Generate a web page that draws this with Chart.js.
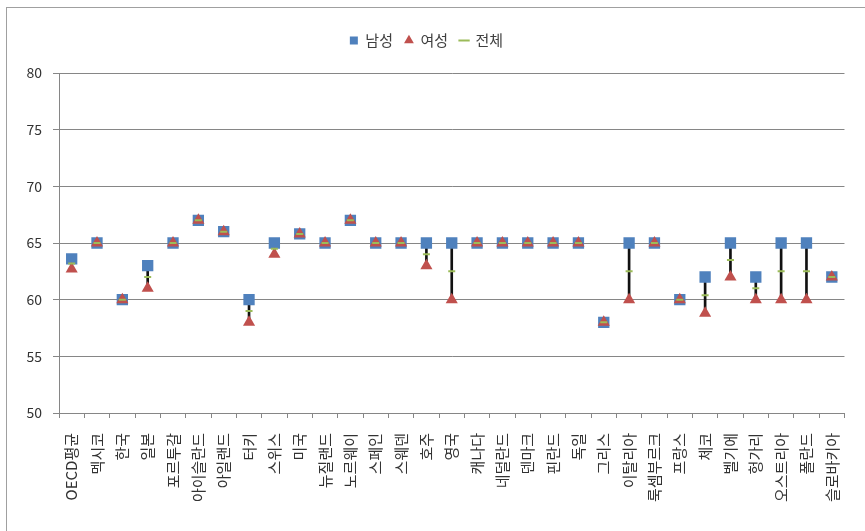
<!DOCTYPE html>
<html><head><meta charset="utf-8">
<script src="https://cdn.jsdelivr.net/npm/chart.js@4/dist/chart.umd.min.js"></script>
<style>
html,body{margin:0;padding:0;background:#fff;overflow:hidden;}
#wrap{position:relative;width:865px;height:531px;}
#frame{position:absolute;left:6px;top:7px;width:880px;height:560px;border-left:1px solid #a0a0a0;border-top:1px solid #a0a0a0;box-sizing:border-box;}
#c{position:absolute;left:0;top:0;}
</style></head>
<body>
<div id="wrap"><div id="frame"></div><canvas id="c" width="865" height="531"></canvas></div>
<script>
const categories = ['OECD평균','멕시코','한국','일본','포르투갈','아이슬란드','아일랜드','터키','스위스','미국','뉴질랜드','노르웨이','스페인','스웨덴','호주','영국','캐나다','네덜란드','덴마크','핀란드','독일','그리스','이탈리아','룩셈부르크','프랑스','체코','벨기에','헝가리','오스트리아','폴란드','슬로바키아'];
const male   = [63.6,65,60,63,65,67,66,60,65,65.8,65,67,65,65,65,65,65,65,65,65,65,58,65,65,60,62,65,62,65,65,62];
const female = [62.7,65,60,61,65,67,66,58,64,65.8,65,67,65,65,63,60,65,65,65,65,65,58,60,65,60,58.8,62,60,60,60,62];
const total  = [63.2,65,60,62,65,67,66,59,64.5,65.8,65,67,65,65,64,62.5,65,65,65,65,65,58,62.5,65,60,60.4,63.5,61,62.5,62.5,62];
const yTicks = [50,55,60,65,70,75,80];
const seriesNames = ['남성','여성','전체'];

const FONT = '"Noto Sans CJK KR", "Noto Sans", sans-serif';
const range = male.map((m,i)=>[female[i], m]);

const legendGap = {
  id:'legendGap',
  beforeLayout(chart){
    const lg = chart.legend;
    if (lg && !lg._gapPatched){
      const orig = lg.fit;
      lg.fit = function(){ orig.call(this); this.height += 15; };
      lg._gapPatched = true;
    }
  }
};

new Chart(document.getElementById('c'), {
  type: 'bar',
  data: {
    labels: categories,
    datasets: [
      {type:'line', label:seriesNames[0], data:male, showLine:false, pointStyle:'rect', pointRadius:8, pointHoverRadius:8,
       backgroundColor:'#4F81BD', borderColor:'#4F81BD', borderWidth:0, order:3},
      {type:'line', label:seriesNames[1], data:female, showLine:false, pointStyle:'triangle', pointRadius:7, pointHoverRadius:7,
       backgroundColor:'#C0504D', borderColor:'#C0504D', borderWidth:0, order:2},
      {type:'line', label:seriesNames[2], data:total, showLine:false, pointStyle:'line', pointRadius:3.5, pointHoverRadius:3.5,
       backgroundColor:'#9BBB59', borderColor:'#9BBB59', borderWidth:2, order:1},
      {type:'bar', label:'range', data:range, backgroundColor:'#111', borderWidth:0, barThickness:2, order:4}
    ]
  },
  plugins:[legendGap],
  options: {
    responsive:false, animation:false,
    layout:{padding:{left:0,right:12,top:21,bottom:0}},
    plugins:{
      tooltip:{enabled:false},
      legend:{
        position:'top',
        labels:{
          usePointStyle:true, boxWidth:8, boxHeight:8, padding:12,
          color:'#404040', font:{family:FONT, size:15},
          sort:(a,b)=>a.datasetIndex-b.datasetIndex,
          filter:(item)=>item.text!=='range'
        }
      }
    },
    scales:{
      x:{
        type:'category', offset:true,
        grid:{display:true, drawOnChartArea:false, drawTicks:true, tickLength:5, offset:true, color:'#868686'},
        border:{color:'#868686'},
        ticks:{autoSkip:false, maxRotation:90, minRotation:90, padding:15, color:'#333', font:{family:FONT, size:15}},
        afterFit:(s)=>{s.height=118;}
      },
      y:{
        min:50, max:80,
        afterBuildTicks:(s)=>{s.ticks = yTicks.map(v=>({value:v}));},
        grid:{color:'#868686', tickLength:6, drawTicks:true},
        border:{color:'#868686'},
        ticks:{padding:11, color:'#333', font:{family:FONT, size:14}},
        afterFit:(s)=>{s.width=59;}
      }
    }
  }
});
</script>
</body></html>
